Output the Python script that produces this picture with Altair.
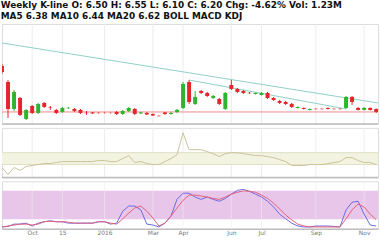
import altair as alt
import pandas as pd

# ---------------- data ----------------
idx = list(range(63))
opens = [10.8, 9.2, 6.5, 7.6, 5.5, 6.8, 6.1, 7.1, 6.65, 6.4,
         6.2, 6.58, 6.5, 6.4, 6.12, 6.15, 6.12, 6.11, 6.11, 6.2,
         6.0, 6.3, 6.5, 6.05, 6.1, 6.0, 5.82, 6.15, 6.0, 6.2,
         6.6, 9.2, 7.0, 8.3, 8.1, 7.6, 7.5, 6.5, 8.9, 8.5,
         8.3, 8.12, 8.0, 7.9, 8.1, 7.6, 7.3, 7.2, 7.0, 6.6,
         6.6, 6.4, 6.52, 6.52, 6.6, 6.52, 6.52, 6.6, 7.7, 6.6,
         6.4, 6.6, 6.5]
closes = [10.2, 6.5, 8.2, 5.9, 6.4, 6.1, 7.0, 6.7, 6.6, 6.1,
          6.6, 6.62, 6.3, 6.1, 6.08, 6.05, 6.08, 6.09, 6.09, 6.0,
          6.3, 6.6, 6.0, 6.15, 5.95, 5.85, 5.78, 6.0, 6.1, 6.4,
          9.0, 7.2, 7.7, 8.1, 7.8, 7.8, 7.0, 8.1, 8.5, 8.2,
          8.1, 8.08, 8.1, 8.1, 7.6, 7.4, 7.1, 7.0, 6.7, 6.7,
          6.5, 6.5, 6.48, 6.48, 6.5, 6.48, 6.48, 7.7, 7.2, 6.4,
          6.6, 6.4, 6.2]
highs = [11.0, 9.4, 8.4, 7.7, 6.5, 6.9, 7.1, 7.2, 6.8, 6.5,
         6.7, 6.7, 6.6, 6.5, 6.3, 6.2, 6.15, 6.15, 6.15, 6.3,
         6.4, 6.7, 6.6, 6.2, 6.2, 6.05, 5.85, 6.2, 6.2, 6.5,
         9.2, 9.4, 8.3, 8.4, 8.2, 7.9, 7.6, 8.2, 9.4, 8.6,
         8.4, 8.2, 8.15, 8.2, 8.2, 7.7, 7.4, 7.3, 7.1, 6.75,
         6.65, 6.55, 6.55, 6.55, 6.65, 6.55, 6.55, 7.8, 7.8, 6.7,
         6.7, 6.65, 6.55]
lows = [10.0, 5.6, 6.3, 5.8, 5.4, 6.0, 6.0, 6.6, 6.4, 6.0,
        6.1, 6.5, 6.2, 6.0, 5.9, 6.0, 6.05, 6.05, 6.05, 5.9,
        5.9, 6.2, 5.9, 6.0, 5.9, 5.8, 5.75, 5.9, 5.95, 6.1,
        6.5, 7.0, 6.9, 8.0, 7.7, 7.5, 6.9, 6.4, 8.4, 8.1,
        8.0, 8.0, 7.95, 7.85, 7.5, 7.3, 7.0, 6.9, 6.6, 6.55,
        6.45, 6.35, 6.45, 6.45, 6.45, 6.45, 6.45, 6.5, 6.9, 6.35,
        6.35, 6.35, 6.1]
indicator = [10, 3, 10, 7, 11, 12, 13, 14, 14, 15,
             16, 16, 16, 16, 16, 16, 17, 17, 16, 16,
             19, 22, 15, 16, 14, 13, 13, 16, 19, 23,
             45, 28, 28, 28, 26, 24, 21, 24, 25, 25,
             24, 23, 22, 22, 21, 20, 18, 16, 12, 12,
             12, 13, 13, 13, 14, 15, 16, 20, 20, 17,
             15, 15, 13]
stoch_k = [4, 5, 10, 10, 12, 6, 12, 15, 17, 15,
           15, 12, 12, 12, 12, 12, 15, 15, 10, 12,
           37, 48, 48, 40, 10, 8, 4, 12, 27, 62,
           75, 75, 67, 62, 67, 62, 58, 64, 73, 81,
           83, 79, 73, 67, 58, 46, 31, 21, 12, 6,
           4, 4, 6, 6, 6, 5, 4, 40, 56, 58,
           31, 8, 6]
stoch_d = [4, 6, 8, 10, 10, 8, 10, 15, 16, 15,
           15, 14, 12, 12, 12, 12, 15, 15, 12, 10,
           21, 33, 44, 48, 37, 23, 6, 12, 27, 44,
           60, 71, 71, 69, 67, 64, 62, 67, 73, 77,
           80, 79, 77, 71, 64, 54, 42, 29, 19, 10,
           6, 4, 4, 4, 4, 4, 4, 21, 40, 52,
           46, 31, 19]
tick_pos = [5, 10, 17, 25, 30, 38, 43, 52, 60]
tick_lab = ["Oct", "15", "2016", "Mar", "Apr", "Jun", "Jul", "Sep", "Nov"]
support_level = 6.2
trend_x = [0, 62.3, 31, 57]
trend_y = [13.1, 7.1, 9.4, 6.5]
trend_id = ["a", "a", "b", "b"]
ind_band = [13, 25]
stoch_band = [20, 80]
price_dom = [5, 15]

# ---------------- tables ----------------
candles = pd.DataFrame({"i": idx, "o": opens, "h": highs, "l": lows, "c": closes})
candles["dir"] = ["up" if c >= o else "down" for o, c in zip(opens, closes)]
ticks = pd.DataFrame({"i": tick_pos, "lab": tick_lab})
trend = pd.DataFrame({"i": trend_x, "p": trend_y, "g": trend_id})
ind_df = pd.DataFrame({"i": idx, "v": indicator})
stoch = pd.DataFrame({"i": idx + idx, "v": stoch_k + stoch_d,
                      "s": ["K"] * len(idx) + ["D"] * len(idx)})

W = 380
xsc = alt.Scale(domain=[0, 62.3], nice=False, zero=False, padding=0)
xq = alt.X("i:Q", scale=xsc, axis=None)
col = alt.Color("dir:N", scale=alt.Scale(domain=["up", "down"], range=["#2db52d", "#e4262b"]), legend=None)

grid = alt.Chart(ticks).mark_rule(color="#ececec", strokeWidth=1).encode(x=xq)

# ---- price panel ----
psc = alt.Scale(domain=price_dom, nice=False, zero=False)
wick = alt.Chart(candles).mark_rule(strokeWidth=1, clip=True).encode(
    x=xq, y=alt.Y("l:Q", scale=psc, axis=None), y2="h:Q", color=col)
body = alt.Chart(candles).mark_bar(size=4, clip=True).encode(
    x=xq, y=alt.Y("o:Q", scale=psc, axis=None), y2="c:Q", color=col)
tl = alt.Chart(trend).mark_line(color="#8fcfc6", strokeWidth=1, clip=True).encode(
    x=xq, y=alt.Y("p:Q", scale=psc, axis=None), detail="g:N")
sup = alt.Chart(pd.DataFrame({"p": [support_level]})).mark_rule(color="#f08a8a", strokeWidth=1).encode(
    y=alt.Y("p:Q", scale=psc, axis=None))
base1 = alt.Chart(pd.DataFrame({"p": [price_dom[0]]})).mark_rule(color="#bdbdbd", strokeWidth=1.5).encode(
    y=alt.Y("p:Q", scale=psc, axis=None))
panel1 = alt.layer(grid, tl, sup, base1, wick, body).properties(width=W, height=101)

# ---- indicator panel ----
isc = alt.Scale(domain=[0, 50], nice=False, zero=False)
iband = alt.Chart(pd.DataFrame({"a": [ind_band[0]], "b": [ind_band[1]]})).mark_rect(
    color="#f3f3e2").encode(
    y=alt.Y("a:Q", scale=isc, axis=None), y2="b:Q", x=alt.value(0), x2=alt.value(W))
iedge = alt.Chart(pd.DataFrame({"v": ind_band})).mark_rule(color="#e0e0c4", strokeWidth=1).encode(
    y=alt.Y("v:Q", scale=isc, axis=None))
iline = alt.Chart(ind_df).mark_line(color="#c9c29a", strokeWidth=1, clip=True).encode(
    x=xq, y=alt.Y("v:Q", scale=isc, axis=None))
base2 = alt.Chart(pd.DataFrame({"v": [0]})).mark_rule(color="#bdbdbd", strokeWidth=1.5).encode(
    y=alt.Y("v:Q", scale=isc, axis=None))
panel2 = alt.layer(grid, iband, iedge, base2, iline).properties(width=W, height=50)

# ---- stochastic panel ----
ssc = alt.Scale(domain=[0, 100], nice=False, zero=False)
label_expr = " : ".join(f"datum.value == {p} ? '{t}'" for p, t in zip(tick_pos, tick_lab)) + " : ''"
xaxis = alt.X("i:Q", scale=xsc, axis=alt.Axis(values=tick_pos, labelExpr=label_expr, grid=False,
              ticks=False, domainColor="#bdbdbd", domainWidth=1.5, labelFontSize=6,
              labelColor="#777777", labelPadding=1, title=None, labelFont="DejaVu Sans"))
sband = alt.Chart(pd.DataFrame({"a": [stoch_band[0]], "b": [stoch_band[1]]})).mark_rect(
    color="#e8c6ea").encode(
    y=alt.Y("a:Q", scale=ssc, axis=None), y2="b:Q", x=alt.value(0), x2=alt.value(W))
sgrid = alt.Chart(ticks).mark_rule(color="#ececec", strokeWidth=1, opacity=0.6).encode(x=xaxis)
slines = alt.Chart(stoch).mark_line(strokeWidth=1, clip=True).encode(
    x=xaxis, y=alt.Y("v:Q", scale=ssc, axis=None),
    color=alt.Color("s:N", scale=alt.Scale(domain=["K", "D"], range=["#6a6ae0", "#e2607a"]), legend=None))
panel3 = alt.layer(sband, sgrid, slines).properties(width=W, height=48)

chart = alt.vconcat(panel1, panel2, panel3, spacing=1).resolve_scale(color="independent").properties(
    title=alt.TitleParams(
        text=["Weekly K-line  O: 6.50  H: 6.55  L: 6.10  C: 6.20  Chg: -4.62%  Vol: 1.23M",
              "MA5 6.38  MA10 6.44  MA20 6.62  BOLL  MACD  KDJ"],
        anchor="start", fontSize=9, fontWeight="bold", color="#111111", offset=2,
        lineHeight=11, font="DejaVu Sans"),
    padding=0,
).configure_view(stroke=None).configure(background="white")

chart.save("out.html", embed_options={"renderer": "svg", "actions": False})
